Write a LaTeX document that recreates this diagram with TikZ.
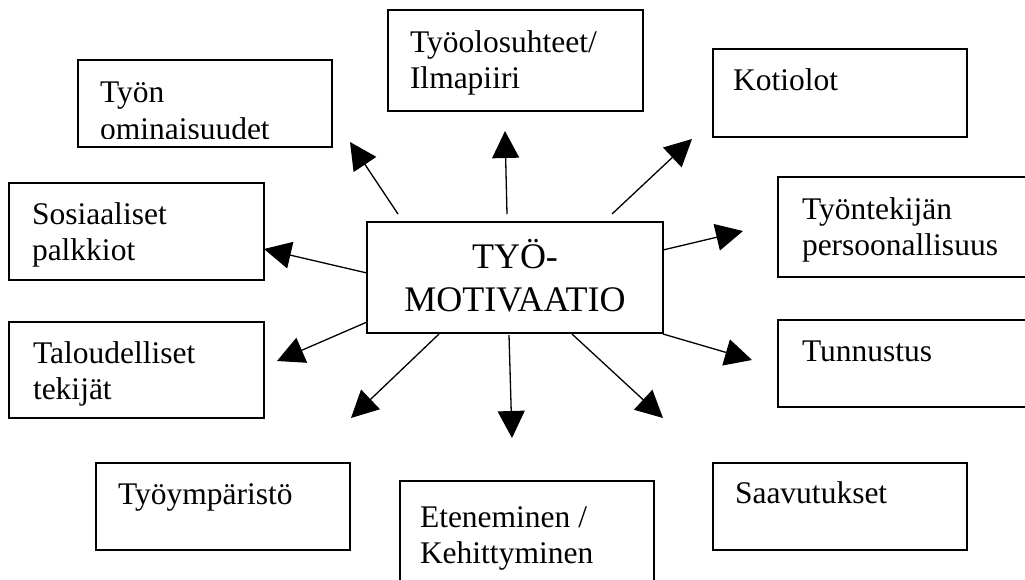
\documentclass[tikz,border=0pt]{standalone}
\usepackage{fontspec}
\setmainfont{Liberation Serif}
\usetikzlibrary{arrows.meta}
\begin{document}
\begin{tikzpicture}[x=1pt,y=-1pt,
  box/.style={draw, line width=2pt, rectangle, inner sep=0pt, outer sep=0pt, anchor=north west},
  lbl/.style={inner sep=0pt, outer sep=0pt, anchor=base west, font=\fontsize{31.5}{36}\selectfont},
  ctr/.style={inner sep=0pt, outer sep=0pt, anchor=base, font=\fontsize{36}{43}\selectfont},
  arr/.style={line width=1.3pt, -{Triangle[length=27pt,width=27pt]}}]
\fill[white] (0,0) rectangle (1025,579);
\useasboundingbox (0,0) rectangle (1025,579);

% centre
\node[box, minimum width=296pt, minimum height=111pt] (c) at (367,222) {};
\node[ctr] (ct1) at (515,268) {TYÖ-};
\node[ctr] (ct2) at (515,311) {MOTIVAATIO};

% boxes
\node[box, minimum width=254pt, minimum height=87pt] (b1) at (78,60) {};
\begin{scope}
\clip (78,60) rectangle (332,138);
\node[lbl] (b1a) at (100,102) {Työn};
\node[lbl] (b1b) at (100,139) {ominaisuudet};
\end{scope}

\node[box, minimum width=255pt, minimum height=101pt] (b2) at (388,10) {};
\node[lbl] (b2a) at (410,52) {Työolosuhteet/};
\node[lbl] (b2b) at (410,88) {Ilmapiiri};

\node[box, minimum width=254pt, minimum height=88pt] (b3) at (713,49) {};
\node[lbl] (b3a) at (733,90) {Kotiolot};

\node[box, minimum width=255pt, minimum height=97pt] (b4) at (9,183) {};
\node[lbl] (b4a) at (32,224) {Sosiaaliset};
\node[lbl] (b4b) at (32,260) {palkkiot};

\node[box, minimum width=262pt, minimum height=100pt] (b5) at (778,177) {};
\node[lbl] (b5a) at (802,219) {Työntekijän};
\node[lbl] (b5b) at (802,255) {persoonallisuus};

\node[box, minimum width=255pt, minimum height=96pt] (b6) at (9,322) {};
\node[lbl] (b6a) at (33,363) {Taloudelliset};
\node[lbl] (b6b) at (33,399) {tekijät};

\node[box, minimum width=262pt, minimum height=87pt] (b7) at (778,320) {};
\node[lbl] (b7a) at (802,361) {Tunnustus};

\node[box, minimum width=254pt, minimum height=87pt] (b8) at (96,463) {};
\node[lbl] (b8a) at (118,504) {Työympäristö};

\node[box, minimum width=254pt, minimum height=120pt] (b9) at (400,481) {};
\node[lbl] (b9a) at (420,527) {Eteneminen /};
\node[lbl] (b9b) at (420,563) {Kehittyminen};

\node[box, minimum width=254pt, minimum height=87pt] (b10) at (713,463) {};
\node[lbl] (b10a) at (735,503) {Saavutukset};

% arrow end points
\coordinate (s1) at (398,214); \coordinate (t1) at (350,142);
\coordinate (s2) at (507,214); \coordinate (t2) at (505,131);
\coordinate (s3) at (612,214); \coordinate (t3) at (692,139);
\coordinate (s4) at (367,273); \coordinate (t4) at (264,249);
\coordinate (s5) at (663,250); \coordinate (t5) at (743,231);
\coordinate (s6) at (367,322); \coordinate (t6) at (277,361);
\coordinate (s7) at (439,334); \coordinate (t7) at (351,418);
\coordinate (s8) at (509,335); \coordinate (t8) at (512,438);
\coordinate (s9) at (572,334); \coordinate (t9) at (663,418);
\coordinate (s10) at (663,334); \coordinate (t10) at (752,360);

\foreach \i in {1,...,10} {\draw[arr] (s\i) -- (t\i);}
\end{tikzpicture}
\end{document}
